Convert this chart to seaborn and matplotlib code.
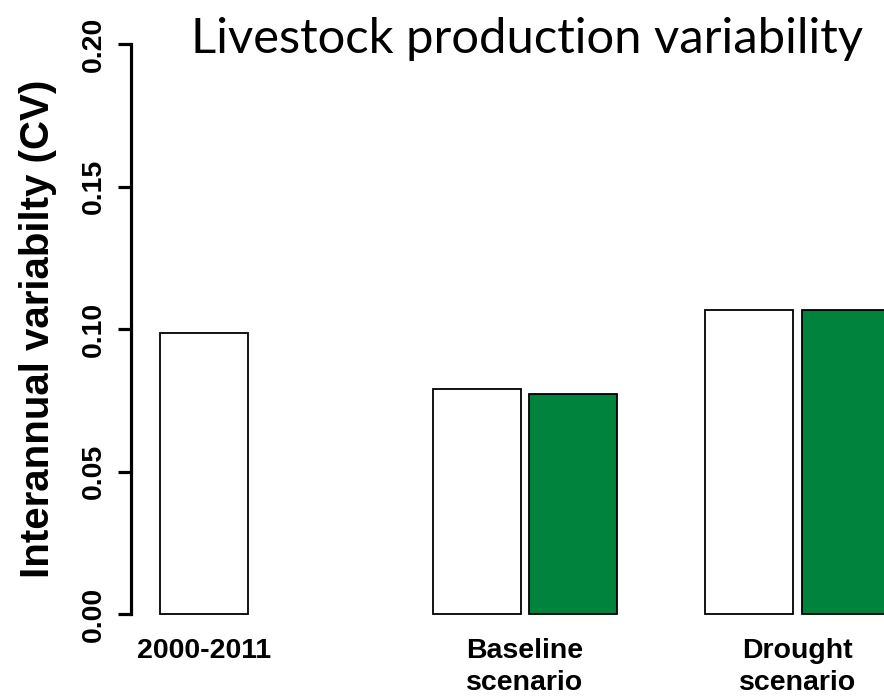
import matplotlib
matplotlib.use("Agg")
import matplotlib.pyplot as plt
import seaborn as sns
import pandas as pd

# values (coefficient of variation)
periods = ["2000-2011", "Baseline\nscenario", "Baseline\nscenario", "Drought\nscenario", "Drought\nscenario"]
series = ["open", "open", "filled", "open", "filled"]
cv_values = [0.0987, 0.0791, 0.0772, 0.1067, 0.1067]

group_labels = ["2000-2011", "Baseline\nscenario", "Drought\nscenario"]
y_ticks = [0.00, 0.05, 0.10, 0.15, 0.20]

# layout: bar centres (bar width = 1, gap inside a pair = 0.1)
bar_pos = [0.0, 3.1, 4.2, 6.2, 7.3]
group_pos = [0.0, 3.65, 6.75]
palette = {"open": "white", "filled": "#00843D"}

df = pd.DataFrame({"period": periods, "series": series, "cv": cv_values, "pos": bar_pos})

sns.set_style("white")
plt.rcParams["font.family"] = ["Liberation Sans", "DejaVu Sans"]
plt.rcParams["text.color"] = "black"
plt.rcParams["xtick.color"] = "black"
plt.rcParams["ytick.color"] = "black"
plt.rcParams["axes.labelcolor"] = "black"

fig = plt.figure(figsize=(8.84, 6.97), dpi=100)
ax = fig.add_axes([131 / 884, 83 / 697, 753 / 884, 570 / 697])

sns.barplot(data=df, x="pos", y="cv", hue="series", palette=palette, native_scale=True,
            dodge=False, width=1 / 1.1, errorbar=None, saturation=1, legend=False,
            edgecolor="black", linewidth=1.3, ax=ax)
for p in ax.patches:
    p.set_clip_on(False)

ax.set_xlim(-0.83, 7.73)
ax.set_ylim(0, 0.2)
ax.set_yticks(y_ticks, [f"{t:.2f}" for t in y_ticks])
ax.set_xticks(group_pos, group_labels)

for s in ["top", "right", "bottom"]:
    ax.spines[s].set_visible(False)
ax.spines["left"].set_linewidth(2.3)
ax.spines["left"].set_color("black")

ax.tick_params(axis="y", length=9.5, width=2.3, color="black", pad=8, labelsize=20.5)
ax.tick_params(axis="x", length=0, pad=17, labelsize=20.5)
ax.yaxis.set_ticks_position("left")
for lab in ax.get_yticklabels():
    lab.set_rotation(90)
    lab.set_va("center")
    lab.set_fontweight("bold")
for lab in ax.get_xticklabels():
    lab.set_fontweight("bold")
    lab.set_linespacing(1.3)

ax.set_xlabel("")
ax.set_ylabel("Interannual variabilty (CV)", fontsize=29, fontweight="bold", labelpad=17)

fig.text(191 / 884, 1 - 17 / 697, "Livestock production variability", family=["Lato", "DejaVu Sans"],
         fontsize=35.3, va="top", ha="left", color="black")

fig.savefig("out.png", dpi=100)
